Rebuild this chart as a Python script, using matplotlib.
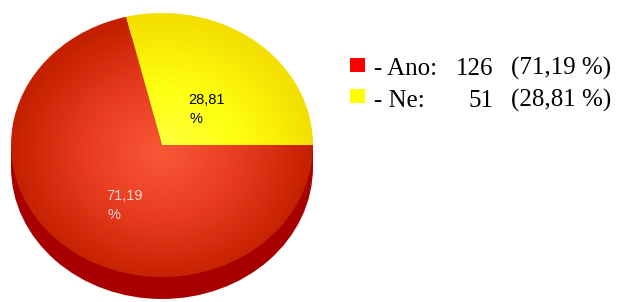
import numpy as np
import matplotlib
matplotlib.use("Agg")
import matplotlib.pyplot as plt
from matplotlib.colors import LinearSegmentedColormap

categories = ["Ano", "Ne"]
counts = [126, 51]
percents = [71.19, 28.81]
colors_legend = ["#ff0000", "#ffff00"]

W, H = 617, 302
fig = plt.figure(figsize=(W / 100, H / 100), dpi=100)

# pie geometry in pixels
cx, cy, rx, ry, depth = 162, 145, 151, 132, 22
d = depth / ry

pax = fig.add_axes([(cx - rx) / W, 1 - (cy + ry + depth) / H, 2 * rx / W, (2 * ry + depth) / H])
pax.set_xlim(-1, 1)
pax.set_ylim(-1 - d, 1)
pax.axis("off")

# side wall
side_color = "#a80000"
pax.add_patch(plt.Rectangle((-1, -d), 2, d, color=side_color, lw=0, zorder=1))
pax.add_patch(matplotlib.patches.Ellipse((0, -d), 2, 2, color=side_color, lw=0, zorder=1))

wedges, _ = pax.pie(counts, startangle=0, counterclock=False, radius=1,
                    colors=["none", "none"], wedgeprops=dict(lw=0))
for w in wedges:
    w.set_zorder(2)
pax.set_aspect("auto")
pax.set_xlim(-1, 1)
pax.set_ylim(-1 - d, 1)

yy, xx = np.mgrid[1:-1:300j, -1:1:300j]
rr = np.clip(np.sqrt(xx ** 2 + (yy + 0.05) ** 2), 0, 1)
cmaps = [
    LinearSegmentedColormap.from_list("r", ["#fa5838", "#e83c20", "#c42000"]),
    LinearSegmentedColormap.from_list("y", ["#ffff40", "#ffff10", "#f4e000"]),
]
for w, cm in zip(wedges, cmaps):
    im = pax.imshow(rr, cmap=cm, extent=[-1, 1, -1, 1], vmin=0, vmax=1,
                    zorder=3, aspect="auto", interpolation="bilinear")
    im.set_clip_path(w)

# overlay axes in pixel coordinates
ov = fig.add_axes([0, 0, 1, 1])
ov.set_xlim(0, W)
ov.set_ylim(H, 0)
ov.axis("off")

lab_font = dict(family=["Liberation Sans", "DejaVu Sans"], fontsize=10.5)
ov.text(188, 100, f"{percents[1]:.2f}".replace(".", ","), color="black", va="center", ha="left", **lab_font)
ov.text(189, 119, "%", color="black", va="center", ha="left", **lab_font)
ov.text(106, 196, f"{percents[0]:.2f}".replace(".", ","), color="#f8d8d0", va="center", ha="left", **lab_font)
ov.text(107, 215, "%", color="#f8d8d0", va="center", ha="left", **lab_font)

# legend
leg_font = dict(family=["Liberation Serif", "DejaVu Serif"], fontsize=18, color="black")
baselines = [75, 107]
sq_top = [58, 89]
for i, cat in enumerate(categories):
    ov.add_patch(plt.Rectangle((350, sq_top[i]), 15, 14, color=colors_legend[i], lw=0))
    y = baselines[i]
    ov.text(374, y, f"- {cat}:", va="baseline", ha="left", **leg_font)
    ov.text(493, y, f"{counts[i]}", va="baseline", ha="right", **leg_font)
    ov.text(511, y, f"({percents[i]:.2f} %)".replace(".", ","), va="baseline", ha="left", **leg_font)

fig.savefig("out.png", dpi=100)
